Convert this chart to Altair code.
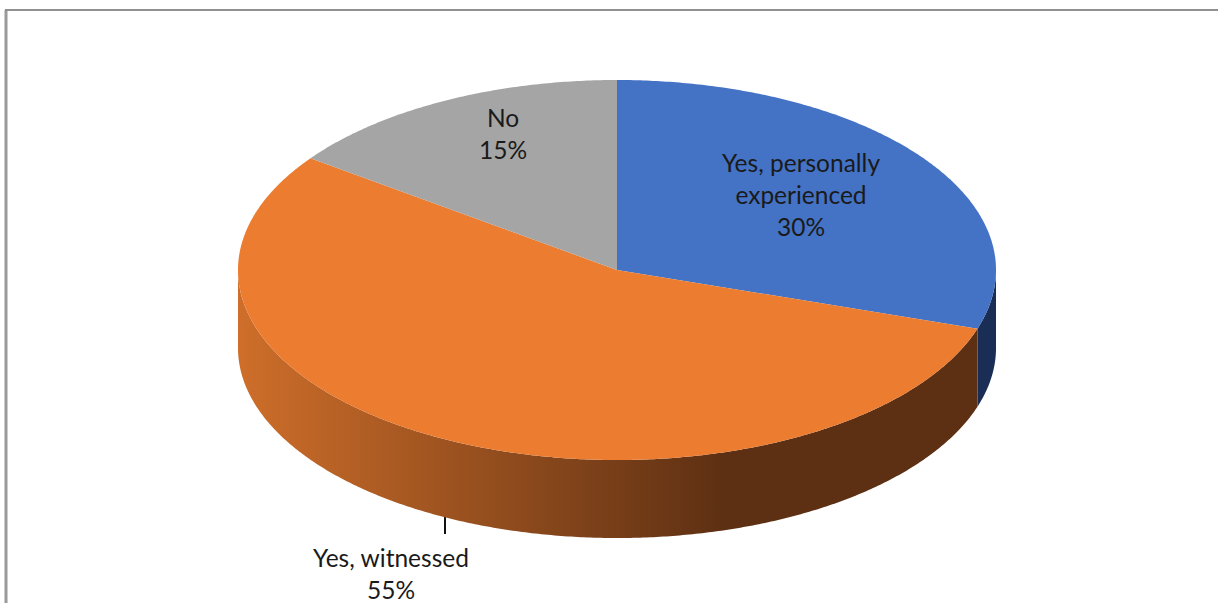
import numpy as np
import pandas as pd
import altair as alt

# Survey shares, clockwise from twelve o'clock
categories = ["Yes, personally experienced", "Yes, witnessed", "No"]
shares = [30, 55, 15]
top_colors = ["#4472C4", "#EC7C30", "#A5A5A5"]
wall_dark_blue = "#1A2D55"
label_text = ["Yes, personally\nexperienced\n30%", "No\n15%", "Yes, witnessed\n55%"]

# Drawing geometry in pixels
W, H = 1218, 603
CX, CY, RX, RY, DEPTH = 617, 270, 379, 190, 78

x_scale = alt.Scale(domain=[0, W], range=[0, W], nice=False, zero=False)
y_scale = alt.Scale(domain=[0, H], range=[0, H], nice=False, zero=False)
X = alt.X("x:Q", scale=x_scale, axis=None)
Y = alt.Y("y:Q", scale=y_scale, axis=None)


def rim(a0, a1):
    """Points on the top ellipse between two clockwise angles (degrees from the top)."""
    n = max(2, int(abs(a1 - a0) * 2) + 1)
    t = np.radians(np.linspace(a0, a1, n))
    return CX + RX * np.sin(t), CY - RY * np.cos(t)


def outline(xs, ys, fill):
    """A filled closed path through the given points."""
    df = pd.DataFrame({"x": xs, "y": ys})
    df["k"] = range(len(df))
    return alt.Chart(df).mark_line(fill=fill, strokeWidth=0, interpolate="linear").encode(
        x=X, y=Y, order="k:Q"
    )


def wall(a0, a1, fill):
    xs, ys = rim(a0, a1)
    return outline(np.r_[xs, xs[::-1], xs[0]], np.r_[ys, ys[::-1] + DEPTH, ys[0]], fill)


# Cumulative slice angles derived from the shares
edges = np.concatenate([[0], np.cumsum(shares)]) * 3.6

layers = []

# Leader line of the witnessed label, partly hidden by the wall
leader = pd.DataFrame({"x": [445], "y": [510], "y2": [534]})
layers.append(alt.Chart(leader).mark_rule(color="#111111", strokeWidth=2).encode(x=X, y=Y, y2="y2:Q"))

# Side walls: blue sliver on the right, shaded orange band round the front
layers.append(wall(90, edges[1], wall_dark_blue))
shade = alt.Gradient(
    gradient="linear",
    x1=0, x2=1, y1=0, y2=0,
    stops=[
        alt.GradientStop(offset=0, color="#CE6E2A"),
        alt.GradientStop(offset=0.655, color="#5E3013"),
        alt.GradientStop(offset=1, color="#5E3013"),
    ],
)
layers.append(wall(edges[1], 270, shade))

# Top faces, each a closed outline through the centre
for i, color in enumerate(top_colors):
    xs, ys = rim(edges[i], edges[i + 1])
    layers.append(outline(np.r_[CX, xs, CX], np.r_[CY, ys, CY], color))

# Labels, anchored on their first line
labels = pd.DataFrame({"x": [801, 503, 391], "y": [165, 120, 560], "t": label_text})
labels["t"] = labels["t"].str.split("\n")
layers.append(
    alt.Chart(labels).mark_text(
        font="Lato", fontSize=24.5, color="#1A1A1A", lineHeight=32, align="center", baseline="middle"
    ).encode(x=X, y=Y, text="t:N")
)

# Frame along the top and left edges
layers.append(
    alt.Chart(pd.DataFrame({"x": [6], "y": [10], "y2": [H]})).mark_rule(color="#9A9A9A", strokeWidth=3).encode(x=X, y=Y, y2="y2:Q")
)
layers.append(
    alt.Chart(pd.DataFrame({"x": [5], "x2": [W], "y": [10]})).mark_rule(color="#909090", strokeWidth=2).encode(x=X, x2="x2:Q", y=Y)
)

chart = (
    alt.layer(*layers)
    .properties(width=W, height=H, padding=0, autosize=alt.AutoSizeParams(type="none"), background="white")
    .configure_view(stroke=None)
)

chart.save("out.html", embed_options={"renderer": "svg", "actions": False})
